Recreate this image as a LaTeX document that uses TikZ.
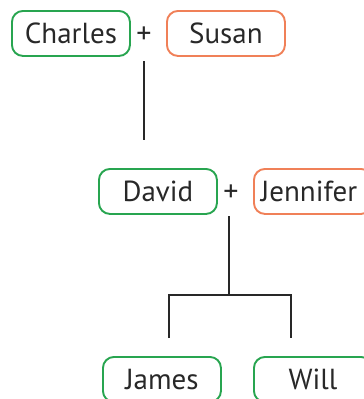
\documentclass[tikz,border=0pt]{standalone}
\usepackage{fontspec}
\setmainfont{PT Sans}
\definecolor{mgreen}{RGB}{40,165,80}
\definecolor{morange}{RGB}{240,128,88}
\definecolor{ink}{RGB}{40,40,40}
\begin{document}
\begin{tikzpicture}[x=1pt,y=-1pt,
  person/.style={draw,line width=1.9pt,rounded corners=11pt,minimum width=118pt,minimum height=45pt,
    inner sep=0pt,font=\fontsize{29}{32}\selectfont,text=ink,anchor=north west},
  male/.style={person,draw=mgreen},
  female/.style={person,draw=morange},
  plus/.style={font=\fontsize{30}{32}\selectfont,text=ink,inner sep=0pt},
  link/.style={draw=ink,line width=1.3pt}]
\useasboundingbox (0,0) rectangle (364,399);
\node[male] (charles) at (11,10) {Charles};
\node[female] (susan) at (166,10) {Susan};
\node[plus] (p1) at (144,35) {+};
\node[male] (david) at (98,168) {David};
\node[female,text width=118pt,align=left] (jennifer) at (253,168) {\hspace*{7pt}Jennifer};
\node[plus] (p2) at (231,193) {+};
\node[male] (james) at (102,356) {James};
\node[male] (will) at (253,356) {Will};
\coordinate (e1) at (144,61);
\coordinate (e2) at (144,140);
\coordinate (f1) at (229,216);
\coordinate (f2) at (229,295);
\coordinate (hl) at (169,295);
\coordinate (hr) at (291,295);
\coordinate (dl) at (169,338);
\coordinate (dr) at (291,338);
\draw[link] (e1) -- (e2);
\draw[link] (f1) -- (f2);
\draw[link] (dl) -- (hl) -- (hr) -- (dr);
\end{tikzpicture}
\end{document}
